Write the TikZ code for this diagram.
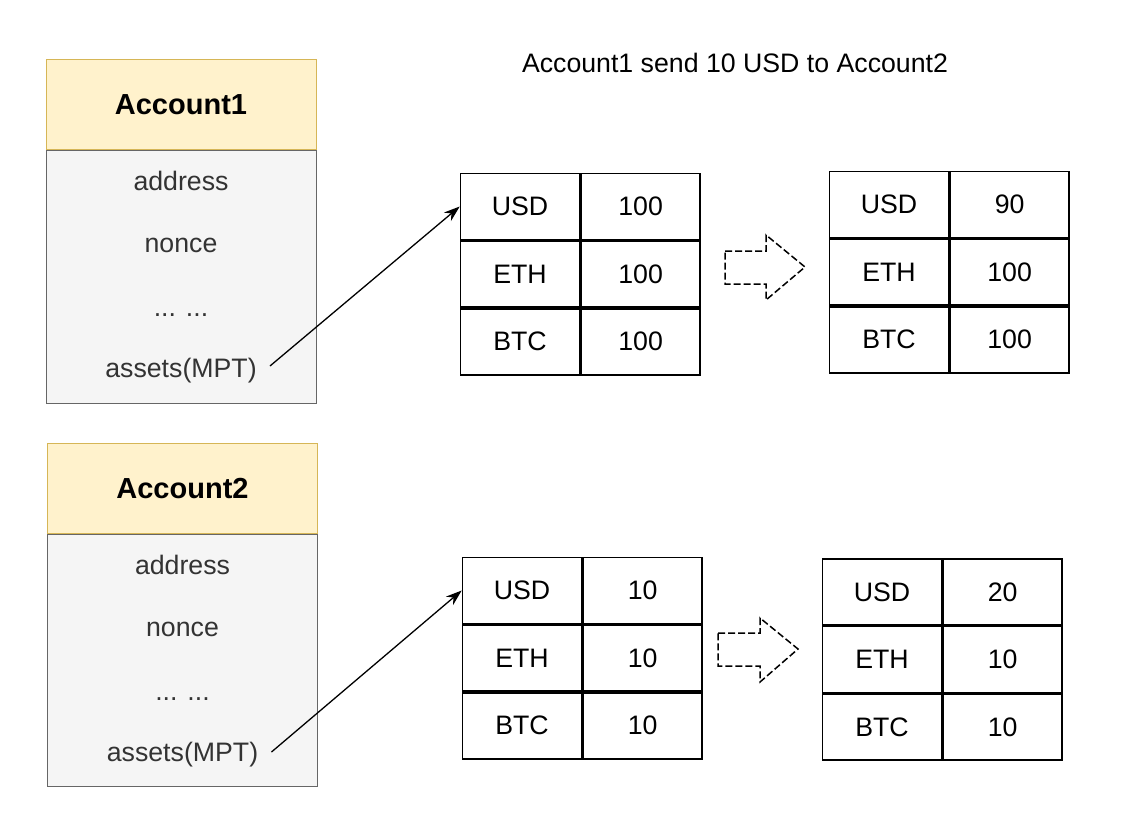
\documentclass[tikz,border=0pt]{standalone}
\usepackage{fontspec}
\setmainfont{Liberation Sans}
\usetikzlibrary{positioning,arrows.meta}

\definecolor{headfill}{HTML}{FFF2CC}
\definecolor{headline}{HTML}{D6B656}
\definecolor{bodyfill}{HTML}{F5F5F5}
\definecolor{bodyline}{HTML}{666666}
\definecolor{bodytext}{HTML}{333333}

\tikzset{
  header/.style={draw=headline, fill=headfill, line width=1pt, minimum width=270pt,
    minimum height=90pt, inner sep=0pt, font=\fontsize{29}{34}\selectfont\bfseries},
  fields/.style={draw=bodyline, fill=bodyfill, line width=0.8pt, minimum width=270pt,
    minimum height=252pt, inner sep=0pt},
  field/.style={text=bodytext, outer sep=10pt, font=\fontsize{26.7}{32}\selectfont},
  cell/.style={draw, line width=1.6pt, minimum width=119pt, minimum height=66pt,
    inner sep=0pt, font=\fontsize{26.7}{32}\selectfont},
  link/.style={-{Stealth[length=16pt, width=11pt]}, line width=1.3pt},
  blockarrow/.style={draw, line width=1.5pt, dash pattern=on 7pt off 3pt},
}

\begin{document}
\begin{tikzpicture}[x=1pt, y=-1pt]

    \useasboundingbox (0,0) rectangle (1132,829);

    % Title
    \node[font=\fontsize{26.7}{32}\selectfont] (title) at (735,63) {Account1 send 10 USD to Account2};

    % Account1
    \node[header]                     (a1) at (181,105) {Account1};
    \node[fields, below=0pt of a1]    (a1body) {};
    \node[field] (a1address) at (181,181) {address};
    \node[field] (a1nonce)   at (181,245) {nonce};
    \node[field] (a1dots)    at (181,315) {... ...};
    \node[field] (a1assets)  at (181,371) {assets(MPT)};

    % Account2
    \node[header]                     (a2) at (182.5,488.5) {Account2};
    \node[fields, below=0pt of a2]    (a2body) {};
    \node[field] (a2address) at (182.5,565) {address};
    \node[field] (a2nonce)   at (182.5,629) {nonce};
    \node[field] (a2dots)    at (182.5,699) {... ...};
    \node[field] (a2assets)  at (182.5,755) {assets(MPT)};

    % Account1 assets, before
    \node[cell]                         (t1usd)  at (520,206.5) {USD};
    \node[cell, right=0pt of t1usd]     (t1usdv) {100};
    \node[cell, below=0pt of t1usd]     (t1eth)  {ETH};
    \node[cell, right=0pt of t1eth]     (t1ethv) {100};
    \node[cell, below=0pt of t1eth]     (t1btc)  {BTC};
    \node[cell, right=0pt of t1btc]     (t1btcv) {100};

    % Account1 assets, after
    \node[cell]                         (t2usd)  at (889,204.5) {USD};
    \node[cell, right=0pt of t2usd]     (t2usdv) {90};
    \node[cell, below=0pt of t2usd]     (t2eth)  {ETH};
    \node[cell, right=0pt of t2eth]     (t2ethv) {100};
    \node[cell, below=0pt of t2eth]     (t2btc)  {BTC};
    \node[cell, right=0pt of t2btc]     (t2btcv) {100};

    % Account2 assets, before
    \node[cell]                         (t3usd)  at (522,590.5) {USD};
    \node[cell, right=0pt of t3usd]     (t3usdv) {10};
    \node[cell, below=0pt of t3usd]     (t3eth)  {ETH};
    \node[cell, right=0pt of t3eth]     (t3ethv) {10};
    \node[cell, below=0pt of t3eth]     (t3btc)  {BTC};
    \node[cell, right=0pt of t3btc]     (t3btcv) {10};

    % Account2 assets, after
    \node[cell]                         (t4usd)  at (882,592) {USD};
    \node[cell, right=0pt of t4usd]     (t4usdv) {20};
    \node[cell, below=0pt of t4usd]     (t4eth)  {ETH};
    \node[cell, right=0pt of t4eth]     (t4ethv) {10};
    \node[cell, below=0pt of t4eth]     (t4btc)  {BTC};
    \node[cell, right=0pt of t4btc]     (t4btcv) {10};

    % Connect the nodes
    \draw[link] ([yshift=5pt]a1assets.east) -- (t1usd.west);
    \draw[link] ([yshift=3pt]a2assets.east) -- (t3usd.west);

    % Transfer arrows
    \draw[blockarrow] (725,251) -- (766,251) -- (766,235) -- (805,267)
      -- (766,300) -- (766,284) -- (725,284) -- cycle;
    \draw[blockarrow] (718,633) -- (760,633) -- (760,618) -- (798,649)
      -- (760,682) -- (760,666) -- (718,666) -- cycle;

\end{tikzpicture}
\end{document}
